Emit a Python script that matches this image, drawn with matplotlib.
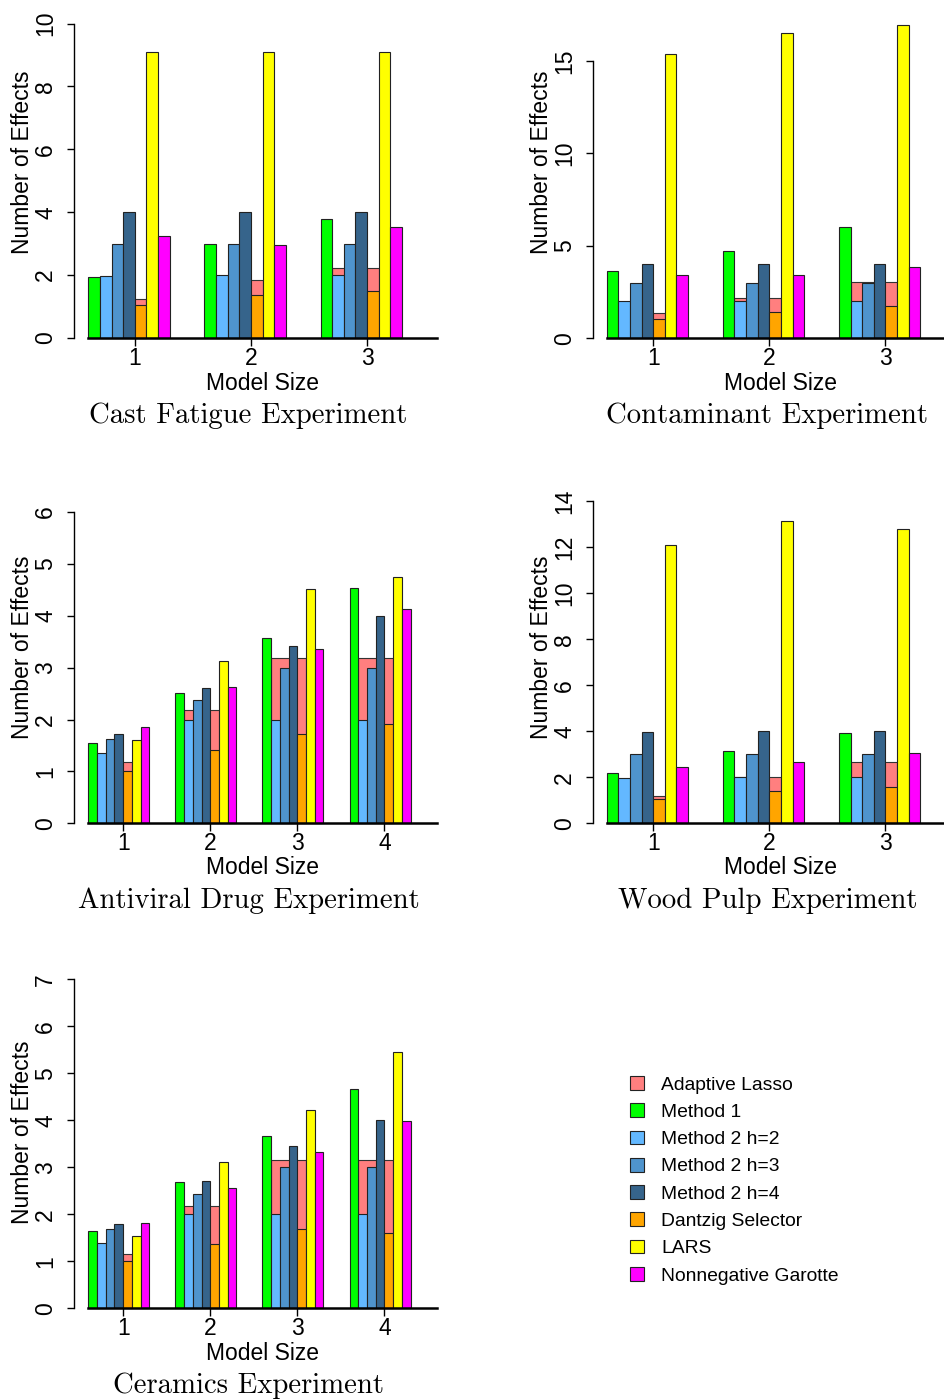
import matplotlib
matplotlib.use("Agg")
import matplotlib.pyplot as plt
from matplotlib.patches import Patch

plt.rcParams['font.family'] = ['Liberation Sans', 'DejaVu Sans']

# ---------------- data ----------------
methods = ["Adaptive Lasso", "Method 1", "Method 2 h=2", "Method 2 h=3",
           "Method 2 h=4", "Dantzig Selector", "LARS", "Nonnegative Garotte"]
colors = ["#FF7F7F", "#00FF00", "#63B8FF", "#4F94CD", "#36648B",
          "#FFA500", "#FFFF00", "#FF00FF"]

cast_ada = [1.23, 1.86, 2.24]
cast_m1 = [1.93, 2.98, 3.77]
cast_h2 = [1.98, 2.0, 2.0]
cast_h3 = [3.0, 3.0, 3.0]
cast_h4 = [4.0, 4.0, 4.0]
cast_dz = [1.04, 1.38, 1.48]
cast_lars = [9.1, 9.1, 9.1]
cast_ng = [3.26, 2.96, 3.52]

cont_ada = [1.35, 2.19, 3.03]
cont_m1 = [3.62, 4.72, 6.0]
cont_h2 = [2.0, 2.0, 2.0]
cont_h3 = [3.0, 3.0, 3.0]
cont_h4 = [4.0, 4.0, 4.0]
cont_dz = [1.06, 1.44, 1.75]
cont_lars = [15.35, 16.5, 16.92]
cont_ng = [3.41, 3.42, 3.87]

anti_ada = [1.19, 2.18, 3.19, 3.19]
anti_m1 = [1.54, 2.52, 3.57, 4.53]
anti_h2 = [1.36, 2.0, 2.0, 2.0]
anti_h3 = [1.62, 2.37, 3.0, 3.0]
anti_h4 = [1.72, 2.6, 3.41, 3.99]
anti_dz = [1.0, 1.42, 1.73, 1.92]
anti_lars = [1.6, 3.12, 4.51, 4.75]
anti_ng = [1.86, 2.62, 3.36, 4.14]

wood_ada = [1.19, 2.0, 2.68]
wood_m1 = [2.17, 3.16, 3.94]
wood_h2 = [1.98, 2.0, 2.0]
wood_h3 = [3.0, 3.0, 3.0]
wood_h4 = [3.97, 4.0, 4.0]
wood_dz = [1.04, 1.39, 1.57]
wood_lars = [12.1, 13.15, 12.78]
wood_ng = [2.43, 2.65, 3.07]

cera_ada = [1.15, 2.17, 3.15, 3.15]
cera_m1 = [1.64, 2.68, 3.66, 4.66]
cera_h2 = [1.4, 2.0, 2.0, 2.0]
cera_h3 = [1.68, 2.44, 3.0, 3.0]
cera_h4 = [1.79, 2.7, 3.46, 4.0]
cera_dz = [1.0, 1.36, 1.68, 1.6]
cera_lars = [1.53, 3.11, 4.22, 5.46]
cera_ng = [1.81, 2.55, 3.32, 3.99]

titles = ["Cast Fatigue Experiment", "Contaminant Experiment",
          "Antiviral Drug Experiment", "Wood Pulp Experiment",
          "Ceramics Experiment"]
yticks_list = [[0, 2, 4, 6, 8, 10], [0, 5, 10, 15], [0, 1, 2, 3, 4, 5, 6],
               [0, 2, 4, 6, 8, 10, 12, 14], [0, 1, 2, 3, 4, 5, 6, 7]]

panels_data = [
    [cast_ada, cast_m1, cast_h2, cast_h3, cast_h4, cast_dz, cast_lars, cast_ng],
    [cont_ada, cont_m1, cont_h2, cont_h3, cont_h4, cont_dz, cont_lars, cont_ng],
    [anti_ada, anti_m1, anti_h2, anti_h3, anti_h4, anti_dz, anti_lars, anti_ng],
    [wood_ada, wood_m1, wood_h2, wood_h3, wood_h4, wood_dz, wood_lars, wood_ng],
    [cera_ada, cera_m1, cera_h2, cera_h3, cera_h4, cera_dz, cera_lars, cera_ng],
]

# ---------------- layout (pixels) ----------------
W, H = 945, 1400
fig = plt.figure(figsize=(W / 100, H / 100), dpi=100)

# (axis_x, bars_start, right_px, y0_px, ytop_px, row, col)
layout = [
    (74.0, 88.3, 460.0, 338.0, 23.6, 0, 0),
    (592.7, 606.7, 945.0, 338.3, 60.8, 0, 1),
    (74.0, 88.3, 460.0, 823.3, 512.1, 1, 0),
    (592.7, 606.7, 945.0, 823.3, 501.3, 1, 1),
    (74.0, 88.3, 460.0, 1308.3, 979.3, 2, 0),
]
span_px = 348.4
FS = 16.5

for i, (vals, title, yt) in enumerate(zip(panels_data, titles, yticks_list)):
    axis_x, bstart, right_px, y0, ytop, row, col = layout[i]
    ng = len(vals[1])
    unit = span_px / (10 * ng)
    ax = fig.add_axes([axis_x / W, 1 - y0 / H, (right_px - axis_x) / W, (y0 - ytop) / H])
    ax.set_xlim(-(bstart - axis_x) / unit, (right_px - bstart) / unit)
    ax.set_ylim(0, yt[-1])
    for s in ["top", "right", "bottom"]:
        ax.spines[s].set_visible(False)
    ax.spines["left"].set_bounds(0, yt[-1])
    ax.spines["left"].set_linewidth(1.0)
    ax.patch.set_alpha(0)

    groups = list(range(ng))
    # adaptive lasso: wide background bar spanning the Method 2 and Dantzig bars
    bars = ax.bar([10 * g + 1 for g in groups], vals[0], width=4, align="edge",
                  color=colors[0], edgecolor="#333333", linewidth=0.8, zorder=1)
    for b in bars:
        b.set_clip_on(False)
    for k in range(1, 8):
        bars = ax.bar([10 * g + (k - 1) for g in groups], vals[k], width=1, align="edge",
                      color=colors[k], edgecolor="#222222", linewidth=0.8, zorder=2)
        for b in bars:
            b.set_clip_on(False)
    ax.plot([0, 10 * ng], [0, 0], color="black", lw=1.8, clip_on=False, zorder=3)

    ax.set_yticks(yt)
    ax.set_yticklabels([str(v) for v in yt], rotation=90, va="center", fontsize=FS)
    ax.tick_params(axis="y", length=5, width=1.0, pad=7)
    ax.set_xticks([10 * g + 4 for g in groups])
    ax.set_xticklabels([str(g + 1) for g in groups], fontsize=FS)
    ax.tick_params(axis="x", length=5.5, width=1.0, pad=0.8)

    # axis labels and title
    xl_center = bstart + span_px / 2
    ttl_center = 248.5 if col == 0 else 767.5
    yl_x = 23 if col == 0 else 542
    off = 485 * row
    fig.text(xl_center / W, 1 - (383 + off) / H, "Model Size", ha="center",
             va="center", fontsize=FS)
    fig.text(ttl_center / W, 1 - (416 + off) / H, title, ha="center",
             va="center", fontsize=20.7, family="cmr10")
    fig.text(yl_x / W, 1 - (162 + off) / H, "Number of Effects", ha="center",
             va="center", rotation=90, fontsize=FS)

handles = [Patch(facecolor=c, edgecolor="#222222", linewidth=0.8) for c in colors]
fig.legend(handles, methods, loc="upper left",
           bbox_to_anchor=(630 / W, 1 - 1076 / H), frameon=False,
           fontsize=13.9, handlelength=0.72, handleheight=0.72,
           handletextpad=0.88, labelspacing=0.5, borderpad=0, borderaxespad=0)

fig.savefig("out.png", dpi=100)
